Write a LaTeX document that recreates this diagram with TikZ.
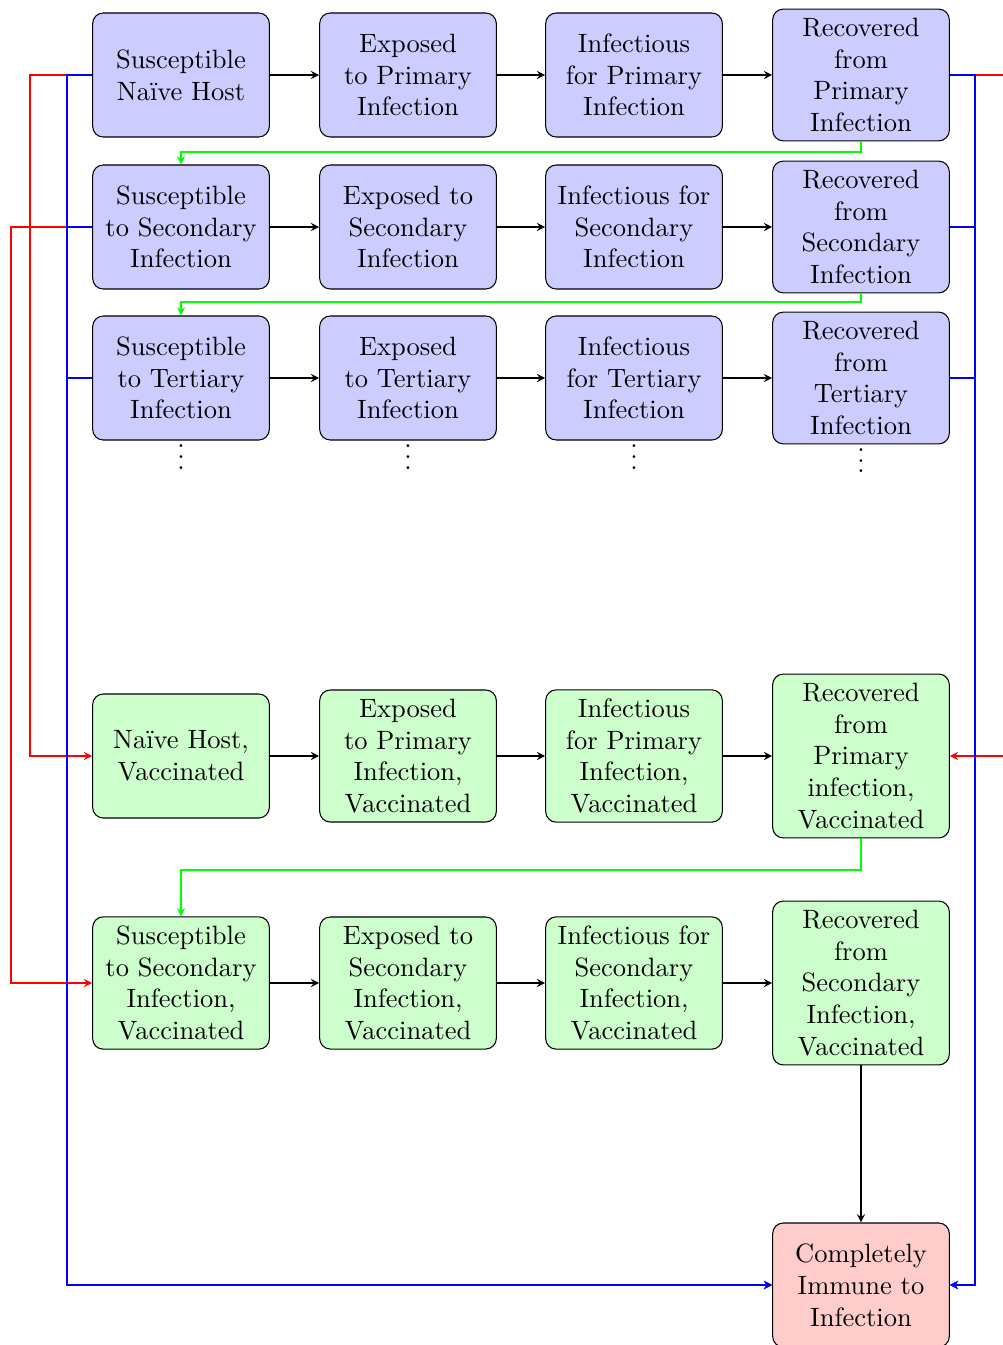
\documentclass[tikz,border=0pt]{standalone}
\usepackage{fontspec}
\usetikzlibrary{positioning}
\begin{document}
\begin{tikzpicture}[x=0.37736pt, y=-0.37736pt,
  box/.style={draw, rounded corners=4pt, text width=60pt, align=center, minimum height=46.8pt, inner sep=3.333pt},
  bbox/.style={box, fill=blue!20},
  gbox/.style={box, fill=green!20},
  rbox/.style={box, fill=red!20},
  arr/.style={-stealth},
  dots/.style={inner sep=0pt}
]
\useasboundingbox (0,0) rectangle (1002,1345);
% row 1
\node[bbox] (S1) at (181,75) {Susceptible\\Naïve Host};
\node[bbox] (E1) at (408,75) {Exposed\\to Primary\\Infection};
\node[bbox] (I1) at (634,75) {Infectious\\for Primary\\Infection};
\node[bbox] (R1) at (861,75) {Recovered\\from\\Primary\\Infection};
% row 2
\node[bbox] (S2) at (181,227) {Susceptible\\to Secondary\\Infection};
\node[bbox] (E2) at (408,227) {Exposed to\\Secondary\\Infection};
\node[bbox] (I2) at (634,227) {Infectious for\\Secondary\\Infection};
\node[bbox] (R2) at (861,227) {Recovered\\from\\Secondary\\Infection};
% row 3
\node[bbox] (S3) at (181,378) {Susceptible\\to Tertiary\\Infection};
\node[bbox] (E3) at (408,378) {Exposed\\to Tertiary\\Infection};
\node[bbox] (I3) at (634,378) {Infectious\\for Tertiary\\Infection};
\node[bbox] (R3) at (861,378) {Recovered\\from\\Tertiary\\Infection};
\node[below=-4.5pt of S3, dots] (D1) {$\vdots$};
\node[below=-4.5pt of E3, dots] (D2) {$\vdots$};
\node[below=-4.5pt of I3, dots] (D3) {$\vdots$};
\node[below=-4.5pt of R3, dots] (D4) {$\vdots$};
% row 4
\node[gbox] (SV1) at (181,756) {Naïve Host,\\Vaccinated};
\node[gbox] (EV1) at (408,756) {Exposed\\to Primary\\Infection,\\Vaccinated};
\node[gbox] (IV1) at (634,756) {Infectious\\for Primary\\Infection,\\Vaccinated};
\node[gbox] (RV1) at (861,756) {Recovered\\from\\Primary\\infection,\\Vaccinated};
% row 5
\node[gbox] (SV2) at (181,983) {Susceptible\\to Secondary\\Infection,\\Vaccinated};
\node[gbox] (EV2) at (408,983) {Exposed to\\Secondary\\Infection,\\Vaccinated};
\node[gbox] (IV2) at (634,983) {Infectious for\\Secondary\\Infection,\\Vaccinated};
\node[gbox] (RV2) at (861,983) {Recovered\\from\\Secondary\\Infection,\\Vaccinated};
% row 6
\node[rbox] (CI) at (861,1285) {Completely\\Immune to\\Infection};

% horizontal arrows
\foreach \a/\b in {S1/E1,E1/I1,I1/R1,S2/E2,E2/I2,I2/R2,S3/E3,E3/I3,I3/R3,SV1/EV1,EV1/IV1,IV1/RV1,SV2/EV2,EV2/IV2,IV2/RV2}
  \draw[arr] (\a) -- (\b);
\draw[arr] (RV2) -- (CI);

% helper coordinates
\coordinate (L1) at (30,0);
\coordinate (L2) at (11,0);
\coordinate (BL) at (67,0);
\coordinate (BR) at (975,0);
\coordinate (RR) at (1015,0);
\coordinate (G1) at (0,152);
\coordinate (G2) at (0,302);
\coordinate (G3) at (0,870);

% green
\draw[green, arr] (R1.south) -- (R1.south |- G1) -- (S2.north |- G1) -- (S2.north);
\draw[green, arr] (R2.south) -- (R2.south |- G2) -- (S3.north |- G2) -- (S3.north);
\draw[green, arr] (RV1.south) -- (RV1.south |- G3) -- (SV2.north |- G3) -- (SV2.north);

% red
\draw[red, arr] (S1.west) -- (S1.west -| L1) -- (L1 |- SV1.west) -- (SV1.west);
\draw[red, arr] (S2.west) -- (S2.west -| L2) -- (L2 |- SV2.west) -- (SV2.west);
\draw[red, arr] (R1.east) -- (R1.east -| RR) -- (RR |- RV1.east) -- (RV1.east);

% blue
\foreach \n in {S1,S2,S3}
  \draw[blue, arr] (\n.west) -- (\n.west -| BL) -- (BL |- CI.west) -- (CI.west);
\foreach \n in {R1,R2,R3}
  \draw[blue, arr] (\n.east) -- (\n.east -| BR) -- (BR |- CI.east) -- (CI.east);
\end{tikzpicture}
\end{document}
